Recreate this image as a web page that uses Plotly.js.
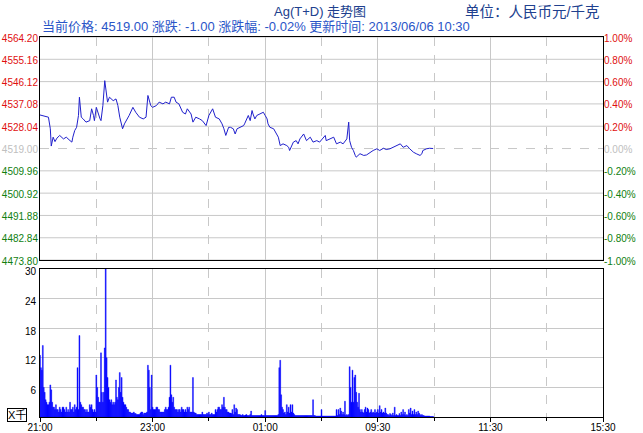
<!DOCTYPE html>
<html>
<head>
<meta charset="utf-8">
<script src="https://cdn.plot.ly/plotly-3.0.1.min.js"></script>
<style>
html,body{margin:0;padding:0;background:#fff;}
#chart{width:643px;height:433px;}
</style>
</head>
<body>
<div id="chart"></div>
<script>
// ---- data ----
const prevClose = 4519.00;
const timeTickVals = [0, 120, 240, 360, 480, 600];
const timeTickText = ['21:00', '23:00', '01:00', '09:30', '11:30', '15:30'];
const timeMinorVals = [60, 180, 300, 420, 540];

const priceLevels = [4473.80, 4482.84, 4491.88, 4500.92, 4509.96, 4519.00, 4528.04, 4537.08, 4546.12, 4555.16, 4564.20];
const pctLevels = [-1.00, -0.80, -0.60, -0.40, -0.20, 0.00, 0.20, 0.40, 0.60, 0.80, 1.00];
const volTickVals = [6, 12, 18, 24, 30];

// minute index since 21:00 (trading minutes) and price
const priceMin = [0,7,9,11,12,14,16,18,21,25,28,32,34,35,37,39,41,42,44,46,49,53,55,57,58,60,62,64,65,67,69,71,72,74,78,81,83,85,87,88,90,92,95,99,102,106,110,113,115,117,118,120,124,127,131,134,138,140,143,145,148,152,155,157,161,163,166,170,173,177,180,184,187,191,194,196,198,201,203,206,208,210,213,217,218,220,222,224,226,227,229,231,234,238,240,242,243,245,249,252,254,256,259,263,265,266,268,270,273,275,277,281,284,288,291,295,298,302,304,305,309,313,316,320,323,327,329,330,332,334,336,337,341,345,348,352,355,359,362,366,369,373,376,380,384,387,391,394,396,398,401,405,407,408,412,415,419];
const price = [4532.6,4532.1,4531.7,4527.0,4520.0,4523.6,4521.8,4523.2,4524.3,4522.9,4523.6,4522.2,4521.6,4523.6,4526.3,4527.6,4532.4,4539.8,4531.7,4531.0,4529.7,4530.3,4535.1,4532.4,4530.3,4535.7,4533.0,4531.0,4530.3,4536.4,4546.5,4541.8,4537.8,4539.8,4538.4,4539.1,4536.4,4531.7,4528.3,4527.0,4529.0,4530.3,4532.4,4535.7,4533.7,4531.7,4531.0,4531.7,4540.5,4537.8,4536.4,4535.7,4536.4,4537.8,4537.1,4537.8,4537.1,4539.8,4539.8,4537.8,4537.1,4533.7,4533.0,4535.1,4533.0,4529.7,4531.7,4531.0,4530.3,4528.3,4532.4,4535.1,4531.7,4531.0,4529.0,4527.0,4524.3,4527.6,4527.6,4527.0,4524.9,4527.0,4527.6,4528.3,4529.0,4531.0,4532.4,4530.3,4534.4,4533.0,4531.0,4532.4,4533.0,4533.7,4532.4,4531.0,4529.0,4527.6,4527.0,4524.6,4523.6,4520.2,4520.9,4520.2,4519.5,4518.2,4520.2,4521.6,4522.2,4520.9,4522.9,4524.9,4522.2,4523.6,4521.6,4522.2,4521.6,4523.6,4524.3,4522.2,4522.9,4523.6,4520.9,4521.6,4520.9,4522.9,4529.7,4522.2,4519.5,4518.2,4516.2,4515.5,4516.9,4516.2,4516.4,4517.5,4518.2,4518.9,4518.2,4519.1,4518.6,4518.9,4519.5,4520.2,4520.9,4519.5,4520.2,4518.9,4518.2,4517.5,4516.9,4516.2,4516.9,4518.2,4518.9,4519.1,4519.0];

// volume per trading minute (thousands)
const volume = [
12.5,10,9.5,14.5,6,5,3.5,3,2.5,2.5,
3,6.5,5.5,3,2,2,1.5,2.5,1.5,1.5,
1,2,1.5,1,2,2,1.5,1,2,1,
1.5,1,3,1.5,1.5,2,1,2.5,1.5,2,
10,1.5,16.5,3,2.5,2,2,1.5,1.5,1,
1.5,1,1,2.5,2,2.5,1.5,1,1.5,1,
8.5,6,4,3,3,13,5,3,5,14,
30,12,8,6,3.5,3,3.5,2.5,3,2.5,
3,7.5,4,3.5,6,9,5,8,4,3,
2.5,2.5,2,1.5,1.5,1,1,0.8,0.8,0.8,
1,0.7,0.7,0.5,0.5,0.5,0.5,0.8,1,1,
0.5,0.8,0.8,0.8,1,10.5,9.5,6,1.5,8.5,
2,1.5,1.5,1.5,2,2,1.5,1.5,1,1,
1,1,1,1.5,2,1.5,1.5,2,4,10.5,
4.5,3,4,2,1.5,1.5,1.5,1,1.5,1.5,
1,2,1.5,1.5,1,1.5,1,2,1.5,2,
1,1,1,8,1,0.8,0.8,0.5,0.5,0.5,
0.5,0.5,0.5,1,0.5,0.5,0.5,0.5,0.8,0.5,
1,0.5,0.5,0.8,0.5,0.5,0.5,1.5,1,1.5,
2,2,1.5,1.5,2.5,2,4,2,1.5,1.5,
1,1,0.8,0.8,0.7,1.5,0.5,2.5,1,1.8,
1.5,0.5,0.5,0.5,0.4,0.3,0.5,0.3,0.3,0.4,
0.5,0.3,0.3,0.3,0.5,1.2,0.3,0.3,0.3,0.3,
0.3,0.3,0.3,0.3,0.3,0.3,0.5,0.3,0.3,0.3,
1.3,0.3,0.3,0.3,0.3,0.3,0.3,0.3,0.3,0.3,
0.3,0.3,0.3,0.3,0.5,10,11.5,4.5,2,1.5,
0.8,1,0.5,2.5,1,2,0.8,2.5,1,2.5,
0.8,0.5,0.3,0.3,0.3,0.3,0.3,0.3,0.3,0.3,
0.3,0.3,0.3,0.3,0.3,0.3,0.3,0.3,0.3,0.3,
0.3,3.5,0.3,0.3,0.2,0.2,0.2,0.2,0.2,0.2,
1.5,0.2,0.2,0.2,0.2,0.2,0.2,0.2,0.2,0.2,
0.2,0.2,0.2,0.2,0.2,0.2,1.5,0.3,1.5,0.5,
1.8,1.2,0.5,1,0.5,3.2,0.3,0.5,0.3,0.5,
10.2,6,3,9.5,3,8,8.5,5,3,2,
4.8,1.5,1,1.5,1,0.8,1.5,2,1,1.8,
1.5,0.8,1,1.5,0.8,1,0.8,1.5,0.8,1,
1.5,0.8,2.3,1,1.5,0.8,1,0.8,1.8,0.8,
0.5,0.5,0.3,0.7,0.5,0.3,0.8,0.3,2,0.3,
0.5,0.3,0.3,0.7,0.3,1,0.5,1.5,0.5,1,
0.3,0.5,0.3,1.5,0.8,1.8,0.5,1.2,0.5,1.5,
0.5,1,0.5,1.2,0.8,0.5,0.3,0.5,0.3,0.3,
0.2,0.2,0.2,0.2,0.2,0.2,0.1,0.1,0.1,0.1
];

const titleText = 'Ag(T+D) 走势图';
const infoText = '当前价格: 4519.00 涨跌: -1.00 涨跌幅: -0.02% 更新时间: 2013/06/06 10:30';
const unitText = '单位：人民币元/千克';
const volUnitText = 'X千';

// ---- build ----
const RED = '#e01010', GREEN = '#108010', GRAY = '#c0c0c0', GRID = '#c8c8c8';
const colorFor = (v, c) => v > c ? RED : (v < c ? GREEN : GRAY);
const priceTickText = priceLevels.map(v => '<span style="color:' + colorFor(v, prevClose) + '">' + v.toFixed(2) + '</span>');
const pctTickText = pctLevels.map(v => '<span style="color:' + colorFor(v, 0) + '">' + v.toFixed(2) + '%</span>');

const pRange = [priceLevels[0], priceLevels[priceLevels.length - 1]];
const pctRange = pRange.map(p => (p - prevClose) / prevClose * 100);
const volX = volume.map((v, i) => i);

const cjk = 'Liberation Sans, Arial, Noto Sans CJK SC, sans-serif';
const font = {family: cjk, size: 10, color: '#000'};
const tickFont = {size: 10, color: '#000', family: cjk};

const traces = [
  {type: 'scatter', mode: 'lines', x: priceMin, y: price, xaxis: 'x2', yaxis: 'y2',
   line: {color: '#2020cc', width: 1}, hoverinfo: 'skip'},
  {type: 'scatter', mode: 'lines', x: [priceMin[0]], y: [0], xaxis: 'x2', yaxis: 'y3',
   line: {color: 'rgba(0,0,0,0)'}, hoverinfo: 'skip'},
  {type: 'bar', x: volX, y: volume, xaxis: 'x', yaxis: 'y',
   marker: {color: '#0000ff', line: {width: 0.4, color: '#0000ff'}}, hoverinfo: 'skip'}
];

const shapes = priceLevels.map(v => ({
  type: 'line', xref: 'x2 domain', x0: 0, x1: 1, yref: 'y2', y0: v, y1: v, layer: 'below',
  line: {color: GRID, width: 1, dash: v === prevClose ? 'dash' : 'solid'}
}));

const xCommon = {
  range: [0, 600], tickmode: 'array', tickvals: timeTickVals, ticktext: timeTickText,
  showgrid: true, gridcolor: GRID, gridwidth: 1, zeroline: false,
  showline: true, mirror: true, linecolor: '#000', linewidth: 1,
  minor: {tickmode: 'array', tickvals: timeMinorVals, showgrid: true, gridcolor: GRID, griddash: 'dash', ticks: 'outside', ticklen: 3, tickcolor: '#000'},
  fixedrange: true
};

const layout = {
  width: 643, height: 433,
  margin: {l: 40, r: 40, t: 37, b: 16, pad: 0},
  paper_bgcolor: '#fff', plot_bgcolor: '#fff',
  showlegend: false, bargap: 0, font: font,
  xaxis: Object.assign({}, xCommon, {anchor: 'y', ticks: 'outside', ticklen: 4, tickcolor: '#000', tickfont: tickFont, ticklabelstandoff: -3, automargin: false}),
  xaxis2: Object.assign({}, xCommon, {anchor: 'y2', showticklabels: false, ticks: '', minor: Object.assign({}, xCommon.minor, {ticks: ''})}),
  yaxis: {domain: [0, 0.3895], anchor: 'x', range: [0, 30], tickmode: 'array', tickvals: volTickVals,
    showgrid: true, gridcolor: GRID, zeroline: false, showline: true, mirror: true, linecolor: '#000',
    ticks: '', tickfont: tickFont, ticklabelstandoff: 1, ticklabelshift: 3, automargin: false, fixedrange: true},
  yaxis2: {domain: [0.413, 1], anchor: 'x2', range: pRange, tickmode: 'array', tickvals: priceLevels, ticktext: priceTickText,
    showgrid: false, zeroline: false, showline: true, mirror: true, linecolor: '#000',
    ticks: '', tickfont: {size: 10, family: cjk}, ticklabelstandoff: -1, ticklabelshift: 1, automargin: false, fixedrange: true},
  yaxis3: {overlaying: 'y2', anchor: 'x2', side: 'right', range: pctRange, tickmode: 'array', tickvals: pctLevels, ticktext: pctTickText,
    showgrid: false, zeroline: false, showline: true, linecolor: '#000',
    ticks: '', tickfont: {size: 10, family: cjk}, ticklabelstandoff: -2, ticklabelshift: 1, automargin: false, fixedrange: true},
  shapes: shapes,
  annotations: [
    {text: titleText, xref: 'paper', yref: 'paper', x: 0.497, y: 1, yshift: 26, xanchor: 'center', yanchor: 'middle', showarrow: false,
     font: {family: cjk, size: 13, color: '#20408e'}},
    {text: infoText, xref: 'paper', yref: 'paper', x: 0, y: 1, yshift: 11, xanchor: 'left', yanchor: 'middle', showarrow: false,
     font: {family: cjk, size: 13, color: '#2a55c8'}},
    {text: unitText, xref: 'paper', yref: 'paper', x: 0.752, y: 1, yshift: 25, xanchor: 'left', yanchor: 'middle', showarrow: false,
     font: {family: cjk, size: 14.5, color: '#20408e'}},
    {text: volUnitText, xref: 'paper', yref: 'paper', x: 0, y: 0, xshift: -23, yshift: 2, xanchor: 'center', yanchor: 'middle', showarrow: false,
     font: {family: cjk, size: 11, color: '#000'}, bordercolor: '#000', borderwidth: 1, borderpad: 0, bgcolor: '#fff'}
  ]
};

Plotly.newPlot('chart', traces, layout, {staticPlot: true, displayModeBar: false});
</script>
</body>
</html>
